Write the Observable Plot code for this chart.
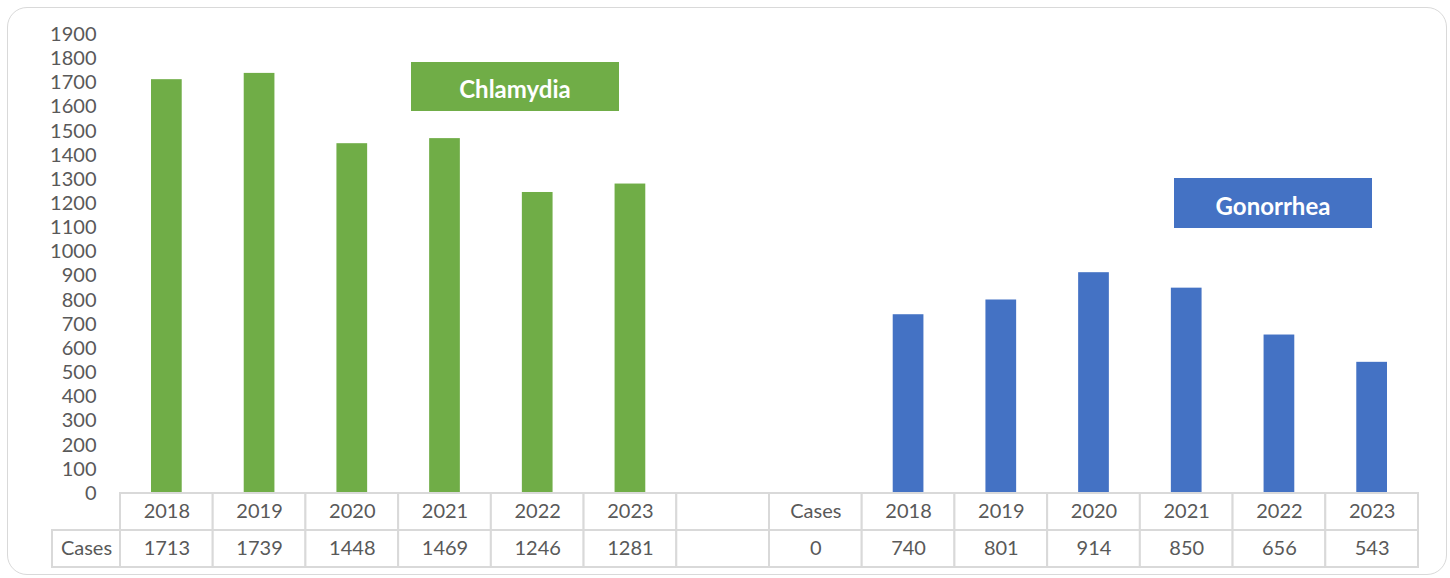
<!DOCTYPE html>
<html><head><meta charset="utf-8">
<script src="https://cdn.jsdelivr.net/npm/d3@7"></script>
<script src="https://cdn.jsdelivr.net/npm/@observablehq/plot@0.6"></script>
<style>
body{margin:0;background:#fff;}
#wrap{position:relative;width:1450px;height:578px;font-family:Lato,sans-serif;overflow:hidden;}
#border{position:absolute;left:7px;top:7px;width:1440px;height:568px;border:1.5px solid #d9d9d9;border-radius:20px;box-sizing:border-box;}
.tag{position:absolute;display:flex;align-items:center;justify-content:center;color:#fff;font-weight:700;font-size:24px;font-family:Lato,sans-serif;box-sizing:border-box;padding-top:4px;}
#chart,#table{position:absolute;left:0;}
#chart{top:0;}
#table{top:492px;}
</style></head>
<body>
<div id="wrap">
  <div id="border"></div>
  <div id="chart"></div>
  <div id="table"></div>
  <div class="tag" id="tagC" style="left:411px;top:62px;width:208px;height:49px;background:#70ad47;">Chlamydia</div>
  <div class="tag" id="tagG" style="left:1174px;top:178px;width:198px;height:50px;background:#4472c4;">Gonorrhea</div>
</div>
<script>
const years = ["2018","2019","2020","2021","2022","2023"];
const chlamydia = [1713,1739,1448,1469,1246,1281];
const gonorrhea = [740,801,914,850,656,543];
const gonorrheaCasesHeader = "Cases";
const gonorrheaCasesValue = 0;
const rowLabel = "Cases";
const yTicks = [0,100,200,300,400,500,600,700,800,900,1000,1100,1200,1300,1400,1500,1600,1700,1800,1900];
const seriesNames = ["Chlamydia","Gonorrhea"];
const seriesColors = ["#70ad47","#4472c4"];

const cols = [
  ...years.map((y,i)=>({key:"C"+y, head:y, value:chlamydia[i], series:"Chlamydia"})),
  {key:"gap", head:"", value:null, series:null},
  {key:"Gcases", head:gonorrheaCasesHeader, value:gonorrheaCasesValue, series:"Gonorrhea"},
  ...years.map((y,i)=>({key:"G"+y, head:y, value:gonorrhea[i], series:"Gonorrhea"}))
];
const keys = cols.map(d=>d.key);

const W = 1450, ML = 120, MR = 32;
const bw = (W-ML-MR)/keys.length;
const textColor = "#595959";
const gridColor = "#d9d9d9";

const chart = Plot.plot({
  width: W, height: 515,
  marginLeft: ML, marginRight: MR, marginTop: 34, marginBottom: 22,
  style: {fontFamily: "Lato, sans-serif", color: textColor, background: "transparent", overflow: "visible"},
  x: {domain: keys, padding: 0, round: false, axis: null},
  y: {domain: [0,1900], axis: null},
  color: {domain: seriesNames, range: seriesColors},
  marks: [
    Plot.text(yTicks, {y: d => d, text: d => String(d), frameAnchor: "left", textAnchor: "end", dx: -24, fontSize: 20, fill: textColor}),
    Plot.barY(cols.filter(d=>d.value!=null && d.value>0), {x:"key", y:"value", fill:"series", insetLeft: 31, insetRight: 31})
  ]
});
document.getElementById("chart").append(chart);

const cells = [];
cols.forEach(c=>{
  cells.push({key:c.key, row:"head", text:c.head});
  cells.push({key:c.key, row:"value", text:c.value==null?"":String(c.value)});
});

const table = Plot.plot({
  width: W, height: 77,
  marginLeft: ML, marginRight: MR, marginTop: 1, marginBottom: 2,
  style: {fontFamily: "Lato, sans-serif", color: textColor, background: "transparent", overflow: "visible"},
  x: {domain: keys, padding: 0, round: false, axis: null},
  y: {domain: ["head","value"], padding: 0, round: false, axis: null},
  marks: [
    Plot.cell(cells, {x:"key", y:"row", fill:"white", stroke: gridColor, strokeWidth: 2, inset: 0}),
    Plot.cell([{key: keys[0], row:"value"}], {x:"key", y:"row", fill:"white", stroke: gridColor, strokeWidth: 2, insetTop:0, insetBottom:0, insetRight:0, insetLeft: bw-68, dx: -bw}),
    Plot.text(cells, {x:"key", y:"row", text:"text", fontSize: 20, fill: textColor}),
    Plot.text([{key: keys[0], row:"value", text: rowLabel}], {x:"key", y:"row", text:"text", fontSize: 20, fill: textColor, dx: -(bw/2 + 34)})
  ]
});
document.getElementById("table").append(table);
</script>
</body></html>
